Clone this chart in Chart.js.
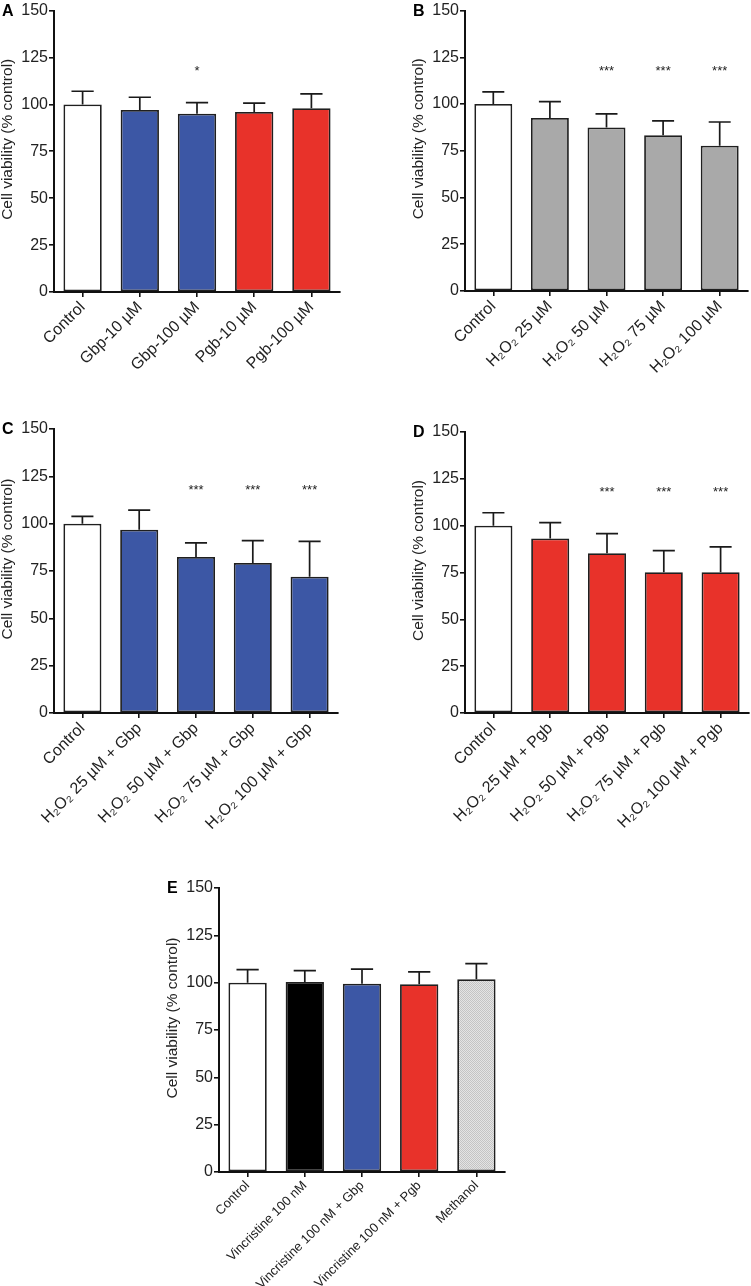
<!DOCTYPE html>
<html>
<head>
<meta charset="utf-8">
<script src="https://cdn.jsdelivr.net/npm/chart.js@4"></script>
<style>
	html, body { margin: 0; padding: 0; background: #fff; }
	body { position: relative; width: 751px; height: 1286px; overflow: hidden; }
	canvas { position: absolute; }
</style>
</head>
<body>
<canvas id="cA" width="375" height="390" style="left:0;top:0"></canvas>
<canvas id="cB" width="376" height="390" style="left:375px;top:0"></canvas>
<canvas id="cC" width="375" height="430" style="left:0;top:410px"></canvas>
<canvas id="cD" width="376" height="430" style="left:375px;top:410px"></canvas>
<canvas id="cE" width="360" height="436" style="left:160px;top:850px"></canvas>
<script>
/* global Chart */
// panel A
const labelsA = ['Control', 'Gbp-10 µM', 'Gbp-100 µM', 'Pgb-10 µM', 'Pgb-100 µM'];
const valuesA = [100, 97, 95, 96, 98];
const errA = [7, 6.8, 5.9, 4.7, 7.6];
const starsA = ['', '', '*', '', ''];

// panel B
const labelsB = ['Control', 'H₂O₂ 25 µM', 'H₂O₂ 50 µM', 'H₂O₂ 75 µM', 'H₂O₂ 100 µM'];
const valuesB = [100, 92.6, 87.5, 83.3, 77.7];
const errB = [6.5, 8.7, 7.3, 7.7, 12.7];
const starsB = ['', '', '***', '***', '***'];

// panel C
const labelsC = ['Control', 'H₂O₂ 25 µM + Gbp', 'H₂O₂ 50 µM + Gbp', 'H₂O₂ 75 µM + Gbp', 'H₂O₂ 100 µM + Gbp'];
const valuesC = [100, 96.8, 82.4, 79.2, 72];
const errC = [3.9, 10.4, 7.5, 11.8, 18.6];
const starsC = ['', '', '***', '***', '***'];

// panel D
const labelsD = ['Control', 'H₂O₂ 25 µM + Pgb', 'H₂O₂ 50 µM + Pgb', 'H₂O₂ 75 µM + Pgb', 'H₂O₂ 100 µM + Pgb'];
const valuesD = [100, 93.2, 85.3, 75.2, 75.2];
const errD = [6.9, 8.4, 10.5, 11.5, 13.5];
const starsD = ['', '', '***', '***', '***'];

// panel E
const labelsE = ['Control', 'Vincristine 100 nM', 'Vincristine 100 nM + Gbp', 'Vincristine 100 nM + Pgb', 'Methanol'];
const valuesE = [100, 100.4, 99.4, 99.2, 101.8];
const errE = [6.9, 6, 7.7, 6.5, 8.3];
const starsE = ['', '', '', '', ''];

const yTicks = [0, 25, 50, 75, 100, 125, 150];
const starLevel = 117.5;
const yTitle = 'Cell viability (% control)';

const WHITE = '#ffffff', BLUE = '#3c57a5', RED = '#e8322a', GRAY = '#a9a9a9', BLACK = '#000000';
const FONT = '"Liberation Sans", Arial, Helvetica, sans-serif';

function dotPattern() {
	const p = document.createElement('canvas');
	p.width = 2; p.height = 2;
	const g = p.getContext('2d');
	g.fillStyle = '#e4e4e4'; g.fillRect(0, 0, 2, 2);
	g.fillStyle = '#c4c4c4'; g.fillRect(0, 0, 1, 1); g.fillRect(1, 1, 1, 1);
	return g.createPattern(p, 'repeat');
}

// error bars, significance stars, y title and panel letter
const extrasPlugin = {
	id: 'extras',
	afterDatasetsDraw(chart, args, opts) {
		const { ctx, chartArea } = chart;
		const meta = chart.getDatasetMeta(0);
		const y = chart.scales.y;
		const vals = chart.data.datasets[0].data;
		ctx.save();
		ctx.strokeStyle = '#1a1a1a';
		ctx.lineWidth = 1.7;
		meta.data.forEach((bar, i) => {
			const top = y.getPixelForValue(vals[i] + opts.err[i]);
			const base = y.getPixelForValue(vals[i]);
			const half = bar.width * 0.29;
			ctx.beginPath();
			ctx.moveTo(bar.x, base);
			ctx.lineTo(bar.x, top);
			ctx.moveTo(bar.x - half, top);
			ctx.lineTo(bar.x + half, top);
			ctx.stroke();
			if (opts.stars[i]) {
				ctx.fillStyle = '#222';
				ctx.font = '13px ' + FONT;
				ctx.textAlign = 'center';
				ctx.textBaseline = 'middle';
				ctx.fillText(opts.stars[i], bar.x, y.getPixelForValue(starLevel));
			}
		});
		// rotated axis title, sits a little above the middle like the original
		ctx.save();
		ctx.translate(chartArea.left - 46, (chartArea.top + chartArea.bottom) / 2 - 12);
		ctx.rotate(-Math.PI / 2);
		ctx.fillStyle = '#222';
		ctx.font = '15.5px ' + FONT;
		ctx.textAlign = 'center';
		ctx.textBaseline = 'middle';
		ctx.fillText(yTitle, 0, 0);
		ctx.restore();

		ctx.fillStyle = '#000';
		ctx.font = 'bold 16px ' + FONT;
		ctx.textAlign = 'left';
		ctx.textBaseline = 'middle';
		ctx.fillText(opts.letter, chartArea.left - 52, chartArea.top + 1);
		ctx.restore();
	}
};

function panel(id, letter, labels, values, err, stars, colors, pad, xHeight, xFont) {
	return new Chart(document.getElementById(id), {
		type: 'bar',
		data: {
			labels: labels,
			datasets: [{
				data: values,
				backgroundColor: colors,
				borderColor: '#1f1f1f',
				borderWidth: 1.8,
				borderSkipped: false,
				categoryPercentage: 1,
				barPercentage: 0.67
			}]
		},
		options: {
			responsive: false,
			animation: false,
			devicePixelRatio: 1,
			layout: { padding: pad },
			plugins: {
				legend: { display: false },
				tooltip: { enabled: false },
				extras: { letter: letter, err: err, stars: stars }
			},
			scales: {
				x: {
					grid: { display: true, drawOnChartArea: false, offset: false, color: '#111', lineWidth: 1.6, tickLength: 5 },
					border: { color: '#111', width: 2 },
					ticks: { color: '#222', font: { family: FONT, size: xFont }, minRotation: 45, maxRotation: 45, autoSkip: false, padding: 1 },
					afterFit(s) { s.height = xHeight; }
				},
				y: {
					min: 0, max: 150,
					afterBuildTicks(s) { s.ticks = yTicks.map(v => ({ value: v })); },
					grid: { display: true, drawOnChartArea: false, color: '#111', lineWidth: 1.6, tickLength: 5 },
					border: { color: '#111', width: 2 },
					ticks: { color: '#222', font: { family: FONT, size: 16 }, padding: 1 },
					afterFit(s) { s.width = 54; }
				}
			}
		},
		plugins: [extrasPlugin]
	});
}

panel('cA', 'A', labelsA, valuesA, errA, starsA, [WHITE, BLUE, BLUE, RED, RED],
	{ left: 0, top: 6, right: 35, bottom: 0 }, 98, 16);
panel('cB', 'B', labelsB, valuesB, errB, starsB, [WHITE, GRAY, GRAY, GRAY, GRAY],
	{ left: 36, top: 6, right: 3, bottom: 0 }, 99, 16);
panel('cC', 'C', labelsC, valuesC, errC, starsC, [WHITE, BLUE, BLUE, BLUE, BLUE],
	{ left: 0, top: 19, right: 37, bottom: 0 }, 127, 16);
panel('cD', 'D', labelsD, valuesD, errD, starsD, [WHITE, RED, RED, RED, RED],
	{ left: 36, top: 22, right: 2, bottom: 0 }, 127, 16);
panel('cE', 'E', labelsE, valuesE, errE, starsE, [WHITE, BLACK, BLUE, RED, dotPattern()],
	{ left: 5, top: 38, right: 15, bottom: 0 }, 114, 13);
</script>
</body>
</html>
